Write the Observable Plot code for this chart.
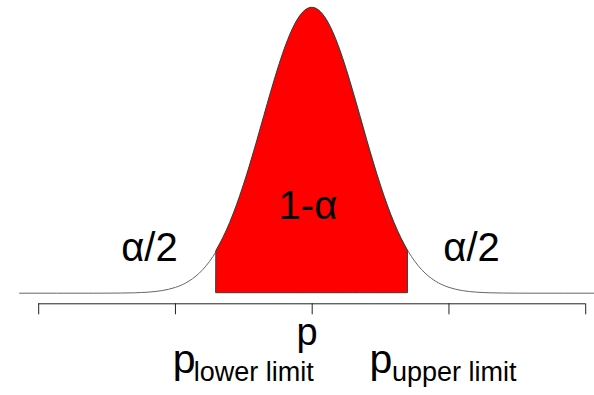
<!DOCTYPE html>
<html><head><meta charset="utf-8">
<script src="https://cdn.jsdelivr.net/npm/d3@7"></script>
<script src="https://cdn.jsdelivr.net/npm/@observablehq/plot@0.6"></script>
<style>body{margin:0;background:#fff}</style>
</head><body>
<script>
// curve sample positions (in axis-tick units, p = 0) and heights (peak = 1)
const xValues = [-2.14,-1.6,-1.5,-1.4,-1.3,-1.25,-1.2,-1.15,-1.1,-1.05,-1.0,-0.95,-0.9,-0.85,-0.8,-0.75,-0.7,-0.65,-0.6,-0.55,-0.5,-0.45,-0.4,-0.35,-0.3,-0.25,-0.2,-0.15,-0.1,-0.05,0,
  0.05,0.1,0.15,0.2,0.25,0.3,0.35,0.4,0.45,0.5,0.55,0.6,0.65,0.7,0.75,0.8,0.85,0.9,0.95,1.0,1.05,1.1,1.15,1.2,1.25,1.3,1.4,1.5,1.6,2.07];
const density = [0,0,0.0002,0.0005,0.0014,0.0023,0.0037,0.0058,0.0090,0.0137,0.0204,0.0297,0.0427,0.0600,0.0827,0.1118,0.1483,0.1930,0.2461,0.3079,0.3777,0.4544,0.5363,0.6206,0.7043,0.7839,0.8557,0.9161,0.9618,0.9903,1,
  0.9903,0.9618,0.9161,0.8557,0.7839,0.7043,0.6206,0.5363,0.4544,0.3777,0.3079,0.2461,0.1930,0.1483,0.1118,0.0827,0.0600,0.0427,0.0297,0.0204,0.0137,0.0090,0.0058,0.0037,0.0023,0.0014,0.0005,0.0002,0,0];
const lowerLimit = -0.70;
const upperLimit = 0.70;
const tickValues = [-2, -1, 0, 1, 2];
const tailLabel = "α/2";
const centerLabel = "1-α";
const pLabel = "p";
const subLower = "lower limit";
const subUpper = "upper limit";

const curve = xValues.map((x, i) => ({x, y: density[i]}));
const inner = curve.filter(d => d.x >= lowerLimit && d.x <= upperLimit);

const xDomain = [-2.2793, 2.0643];
const yDomain = [-0.03714, 1.02558];
const font = "Liberation Sans, Arial, sans-serif";

const chart = Plot.plot({
  width: 594,
  height: 395,
  marginTop: 0,
  marginBottom: 91.7,
  marginLeft: 0,
  marginRight: 0,
  x: {domain: xDomain, axis: null},
  y: {domain: yDomain, axis: null},
  style: {background: "#fff", fontFamily: font, color: "#000", overflow: "visible"},
  marks: [
    Plot.lineY(curve, {x: "x", y: "y", curve: "monotone-x", stroke: "#666", strokeWidth: 1}),
    Plot.areaY(inner, {x: "x", y: "y", curve: "monotone-x", fill: "#ff0000", stroke: "#3a3a3a", strokeWidth: 1}),
    Plot.ruleY([yDomain[0]], {x1: tickValues[0], x2: tickValues[tickValues.length - 1], stroke: "#222", strokeWidth: 1}),
    Plot.axisX({ticks: tickValues, tickSize: 11, tickFormat: () => "", label: null, stroke: "#222"}),
    Plot.text([tailLabel], {text: d => d, x: -1.19, y: 0.1594, fontSize: 40, textAnchor: "middle", fill: "#000"}),
    Plot.text([tailLabel], {text: d => d, x: 1.165, y: 0.1594, fontSize: 40, textAnchor: "middle", fill: "#000"}),
    Plot.text([centerLabel], {text: d => d, x: -0.031, y: 0.3066, fontSize: 40, textAnchor: "middle", fill: "#000"}),
    Plot.text([pLabel], {text: d => d, x: -0.037, y: -0.1395, fontSize: 38, textAnchor: "middle", fill: "#000"}),
    Plot.text([pLabel], {text: d => d, x: -1.0194, y: -0.2348, fontSize: 41, textAnchor: "start", fill: "#000"}),
    Plot.text([subLower], {text: d => d, x: -0.8666, y: -0.2758, fontSize: 27, textAnchor: "start", fill: "#000"}),
    Plot.text([pLabel], {text: d => d, x: 0.419, y: -0.2348, fontSize: 41, textAnchor: "start", fill: "#000"}),
    Plot.text([subUpper], {text: d => d, x: 0.5828, y: -0.2758, fontSize: 27, textAnchor: "start", fill: "#000"})
  ]
});
document.body.appendChild(chart);
</script>
</body></html>
